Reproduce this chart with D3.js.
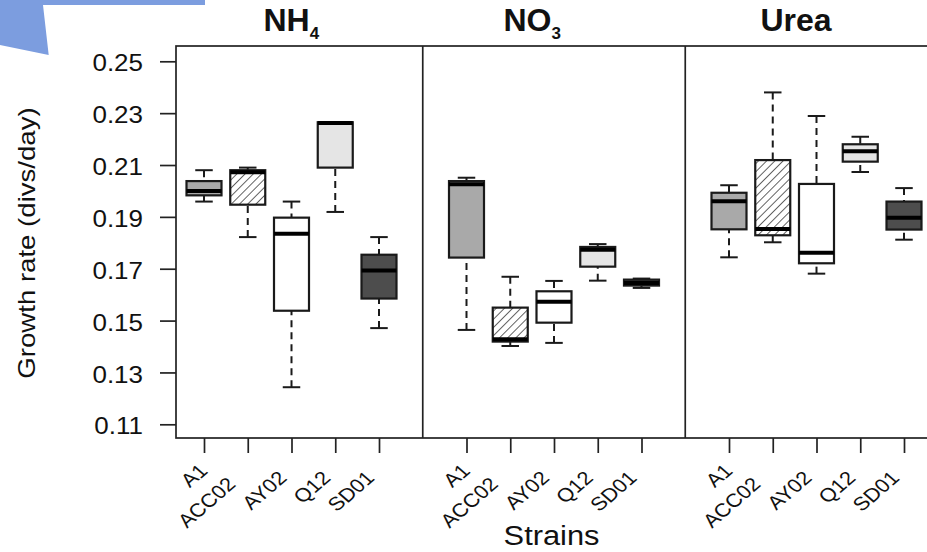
<!DOCTYPE html>
<html>
<head>
<meta charset="utf-8">
<script src="https://cdn.jsdelivr.net/npm/d3@7"></script>
<style>
  html, body { margin: 0; padding: 0; background: #fff; }
  svg { display: block; }
  text { font-family: "Liberation Sans", Arial, Helvetica, sans-serif; fill: #111; }
</style>
</head>
<body>
<svg id="chart" width="927" height="552"></svg>
<script>
// Nitrogen sources (panel titles, with chemical subscripts)
const nutrients = ["NH", "NO", "Urea"];
const nutrientSubscripts = ["4", "3", ""];

// Strains, in the same order inside every panel
const strains = ["A1", "ACC02", "AY02", "Q12", "SD01"];

// Growth-rate axis ticks (divs/day)
const yTickValues = [0.11, 0.13, 0.15, 0.17, 0.19, 0.21, 0.23, 0.25];

// Box summaries per strain: [lower whisker, Q1, median, Q3, upper whisker]
const nh4 = [
  [0.1959, 0.1983, 0.2000, 0.2038, 0.2080],
  [0.1822, 0.1947, 0.2072, 0.2080, 0.2090],
  [0.1243, 0.1538, 0.1835, 0.1897, 0.1959],
  [0.1919, 0.2090, 0.2262, 0.2265, 0.2265],
  [0.1471, 0.1585, 0.1693, 0.1754, 0.1822]
];
const no3 = [
  [0.1464, 0.1743, 0.2026, 0.2038, 0.2051],
  [0.1402, 0.1419, 0.1428, 0.1550, 0.1669],
  [0.1414, 0.1492, 0.1573, 0.1613, 0.1653],
  [0.1654, 0.1708, 0.1773, 0.1784, 0.1795],
  [0.1626, 0.1635, 0.1645, 0.1658, 0.1662]
];
const urea = [
  [0.1744, 0.1852, 0.1960, 0.1993, 0.2022],
  [0.1802, 0.1829, 0.1853, 0.2119, 0.2380],
  [0.1681, 0.1721, 0.1762, 0.2027, 0.2289],
  [0.2073, 0.2113, 0.2153, 0.2180, 0.2209],
  [0.1812, 0.1851, 0.1897, 0.1959, 0.2011]
];
const panelData = [nh4, no3, urea];

// ---- styling ----
const strainFills = ["#a9a9a9", "url(#hatch)", "#ffffff", "#e5e5e5", "#4d4d4d"];
const ink = "#1a1a1a";
const slotsPerPanel = 6;              // 5 strains + one empty slot between panels
const labelNudge = [10, -9, 0, 0, 0]; // shift of each strain label along its diagonal

const svg = d3.select("#chart");

// diagonal hatching used for the ACC02 boxes
const defs = svg.append("defs");
const pat = defs.append("pattern")
  .attr("id", "hatch")
  .attr("patternUnits", "userSpaceOnUse")
  .attr("width", 5.8).attr("height", 5.8)
  .attr("patternTransform", "rotate(45)");
pat.append("rect").attr("width", 5.8).attr("height", 5.8).attr("fill", "#fff");
pat.append("line").attr("x1", 0).attr("y1", 0).attr("x2", 0).attr("y2", 5.8)
  .attr("stroke", "#222").attr("stroke-width", 1.4);

// decorative corner shape
svg.append("polygon")
  .attr("points", "0,0 205,0 205,5 43,5 48.7,55 0,45")
  .attr("fill", "#7c9ddf");

// scales: one continuous slot axis across the three panels
const x = d3.scaleLinear().domain([0, 16]).range([204, 904]);
const y = d3.scaleLinear().domain([0.11, 0.25]).range([424.3, 61.3]);
const step = x(1) - x(0);

const frameTop = 46, frameBottom = 438;
const frameLeft = x(-0.64), frameRight = x(17);

// boxes
panelData.forEach((rows, p) => {
  rows.forEach((s, i) => {
    const cx = x(p * slotsPerPanel + i);
    const hw = 0.4 * step, cw = 0.2 * step;
    const [lo, q1, med, q3, hi] = s;
    const g = svg.append("g");
    // whiskers
    g.append("line").attr("x1", cx).attr("x2", cx).attr("y1", y(hi)).attr("y2", y(q3))
      .attr("stroke", ink).attr("stroke-width", 2).attr("stroke-dasharray", "7,5");
    g.append("line").attr("x1", cx).attr("x2", cx).attr("y1", y(lo)).attr("y2", y(q1))
      .attr("stroke", ink).attr("stroke-width", 2).attr("stroke-dasharray", "7,5");
    // staples
    [lo, hi].forEach(v => {
      g.append("line").attr("x1", cx - cw).attr("x2", cx + cw).attr("y1", y(v)).attr("y2", y(v))
        .attr("stroke", ink).attr("stroke-width", 2);
    });
    // box
    g.append("rect")
      .attr("x", cx - hw).attr("width", 2 * hw)
      .attr("y", y(q3)).attr("height", y(q1) - y(q3))
      .attr("fill", strainFills[i]).attr("stroke", ink).attr("stroke-width", 2.2);
    // median
    g.append("line").attr("x1", cx - hw).attr("x2", cx + hw).attr("y1", y(med)).attr("y2", y(med))
      .attr("stroke", "#000").attr("stroke-width", 4);
  });
});

// panel frame and dividers
svg.append("rect")
  .attr("x", frameLeft).attr("y", frameTop)
  .attr("width", frameRight - frameLeft).attr("height", frameBottom - frameTop)
  .attr("fill", "none").attr("stroke", "#222").attr("stroke-width", 1.7);
[5, 11].forEach(s => {
  svg.append("line").attr("x1", x(s)).attr("x2", x(s)).attr("y1", frameTop).attr("y2", frameBottom)
    .attr("stroke", "#222").attr("stroke-width", 1.7);
});

// y axis
const yAxis = svg.append("g")
  .attr("transform", `translate(${frameLeft},0)`)
  .call(d3.axisLeft(y).tickValues(yTickValues).tickSize(16).tickFormat(d3.format(".2f")));
yAxis.select(".domain").remove();
yAxis.selectAll(".tick line").attr("stroke", "#222").attr("stroke-width", 1.7);
yAxis.selectAll(".tick text")
  .attr("x", null).attr("dy", null)
  .attr("fill", "#111")
  .style("font-size", "23px")
  .attr("text-anchor", "end")
  .attr("transform", "translate(-33,9.6) scale(1.13,1)");

// x axes, one per panel, with diagonal strain labels
nutrients.forEach((n, p) => {
  const ticks = strains.map((_, i) => p * slotsPerPanel + i);
  const ax = svg.append("g")
    .attr("transform", `translate(0,${frameBottom})`)
    .call(d3.axisBottom(x).tickValues(ticks).tickSize(15).tickFormat((d, i) => strains[i]));
  ax.select(".domain").remove();
  ax.selectAll(".tick line").attr("stroke", "#222").attr("stroke-width", 1.7);
  ax.selectAll(".tick text")
    .attr("y", null).attr("dy", null)
    .attr("fill", "#111")
    .style("font-size", "19px")
    .attr("text-anchor", "end")
    .attr("transform", (d, i) => {
      const k = labelNudge[i];
      const dx = -4 + 0.827 * k, dy = 41 - 0.707 * k;
      return `translate(${dx},${dy}) scale(1.15,1) rotate(-45)`;
    });
});

// panel titles
const titleX = [263.5, 503.5, 760.5];
nutrients.forEach((n, p) => {
  const t = svg.append("text")
    .attr("x", titleX[p]).attr("y", 31)
    .style("font-size", "32px").style("font-weight", "bold")
    .text(n);
  if (nutrientSubscripts[p]) {
    t.append("tspan").attr("dy", 8).attr("dx", 0)
      .style("font-size", "17px")
      .text(nutrientSubscripts[p]);
  }
});

// axis titles
svg.append("text")
  .attr("transform", "translate(35,243) rotate(-90) scale(1.2,1)")
  .attr("text-anchor", "middle")
  .style("font-size", "23px")
  .text("Growth rate (divs/day)");

svg.append("text")
  .attr("transform", "translate(551.5,545) scale(1.1,1)")
  .attr("text-anchor", "middle")
  .style("font-size", "28px")
  .text("Strains");
</script>
</body>
</html>
